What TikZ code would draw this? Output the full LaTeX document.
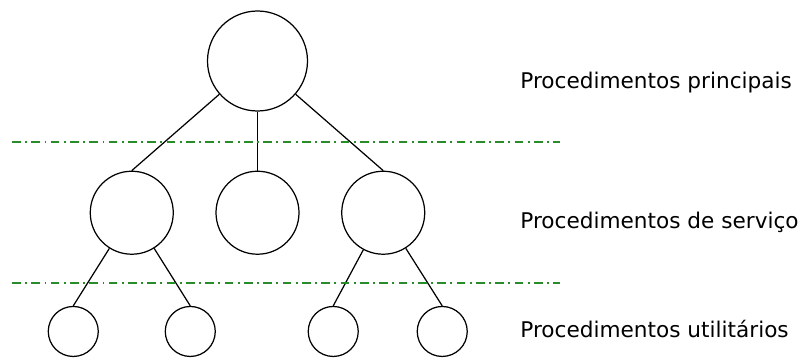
\documentclass[tikz,border=0pt]{standalone}
\usepackage{fontspec}
\setmainfont{DejaVu Sans}
\usepackage{xcolor}
\definecolor{sepgreen}{RGB}{40,140,40}
\usetikzlibrary{positioning}

\begin{document}
\begin{tikzpicture}[
  node distance=1.18cm and 0.83cm,
  bigproc/.style={circle, draw=black, line width=0.7pt, minimum size=2cm, inner sep=0pt},
  midproc/.style={circle, draw=black, line width=0.7pt, minimum size=1.66cm, inner sep=0pt},
  smallproc/.style={circle, draw=black, line width=0.7pt, minimum size=1cm, inner sep=0pt},
  link/.style={line width=0.7pt, color=black},
  sepline/.style={line width=0.7pt, color=sepgreen, dash pattern=on 5pt off 2.5pt on 1pt off 2.5pt},
  lvl/.style={anchor=west, font=\fontsize{12.3}{15}\selectfont, inner sep=0pt}
]
  \useasboundingbox (0,0) rectangle (16.14,-7.16);

  % levels
  \node[bigproc] (root) at (5.15,-1.22) {};
  \node[midproc, below=of root] (mc) {};
  \node[midproc, left=of mc] (ml) {};
  \node[midproc, right=of mc] (mr) {};
  \node[smallproc, below=1.02cm of ml, xshift=-1.17cm] (b1) {};
  \node[smallproc, below=1.02cm of ml, xshift=1.17cm] (b2) {};
  \node[smallproc, below=1.02cm of mr, xshift=-1.0cm] (b3) {};
  \node[smallproc, below=1.02cm of mr, xshift=1.18cm] (b4) {};

  \draw[link] (root) -- (ml.north);
  \draw[link] (root) -- (mc.north);
  \draw[link] (root) -- (mr.north);
  \draw[link] (ml) -- (b1.north);
  \draw[link] (ml) -- (b2.north);
  \draw[link] (mr) -- (b3.north);
  \draw[link] (mr) -- (b4.north);

  % separators
  \draw[sepline] (0.24,-2.84) -- (11.2,-2.84);
  \draw[sepline] (0.24,-5.66) -- (11.2,-5.66);

  \node[lvl] (lp) at (10.4,-1.66) {Procedimentos principais};
  \node[lvl] (ls) at (10.4,-4.44) {Procedimentos de serviço};
  \node[lvl] (lu) at (10.4,-6.58) {Procedimentos utilitários};
\end{tikzpicture}
\end{document}
